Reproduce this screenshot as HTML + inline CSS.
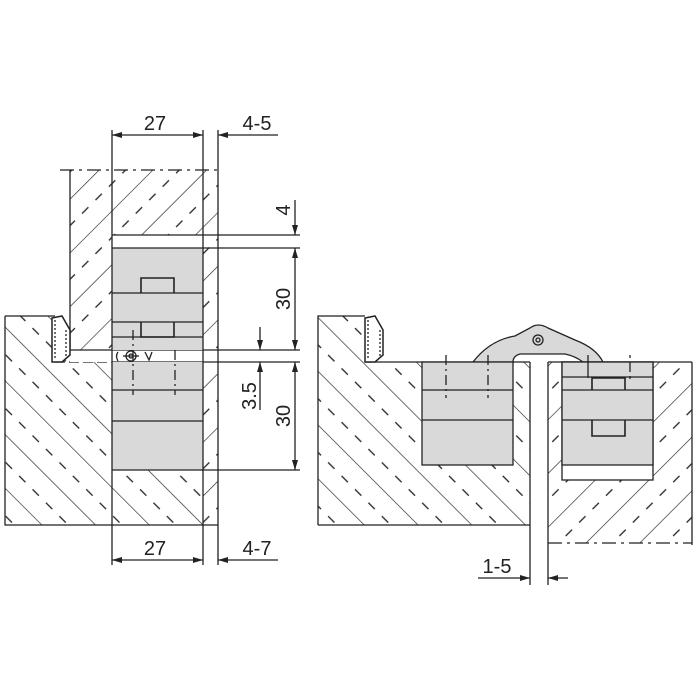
<!DOCTYPE html>
<html><head><style>html,body{margin:0;padding:0;background:#fff}svg{display:block}</style></head>
<body>
<svg width="700" height="700" viewBox="0 0 700 700" xmlns="http://www.w3.org/2000/svg" font-family="'Liberation Sans', 'DejaVu Sans', sans-serif">
<defs>
<pattern id="hb" patternUnits="userSpaceOnUse" width="38" height="38" patternTransform="rotate(-45)">
<line x1="0" y1="0" x2="0" y2="38" stroke="#222" stroke-width="1.3"/>
<line x1="19" y1="8" x2="19" y2="17" stroke="#222" stroke-width="1.3"/>
<line x1="19" y1="27" x2="19" y2="36" stroke="#222" stroke-width="1.3"/>
</pattern>
<pattern id="hf" patternUnits="userSpaceOnUse" width="38" height="38" patternTransform="rotate(45)">
<line x1="0" y1="0" x2="0" y2="38" stroke="#222" stroke-width="1.3"/>
<line x1="19" y1="8" x2="19" y2="17" stroke="#222" stroke-width="1.3"/>
<line x1="19" y1="27" x2="19" y2="36" stroke="#222" stroke-width="1.3"/>
</pattern>
<marker id="ar" viewBox="0 0 10 6" refX="10" refY="3" markerWidth="10" markerHeight="6" orient="auto-start-reverse" markerUnits="userSpaceOnUse">
<path d="M0,0 L10,3 L0,6 Z" fill="#222"/>
</marker>
</defs>
<g stroke="#222" stroke-width="1.3" fill="none">
<!-- LEFT DRAWING -->
<rect x="70" y="170" width="148" height="180" fill="url(#hf)" stroke="none"/>
<rect x="112" y="235" width="91" height="115" fill="#fff" stroke="none"/>
<line x1="70" y1="170" x2="70" y2="350"/>
<line x1="60" y1="170" x2="222" y2="170" stroke-dasharray="14,5,3,5"/>
<path d="M5,316 L55,316 L70,362 L112,362 L112,525 L5,525 Z" fill="url(#hb)" stroke="none"/>
<rect x="112" y="470" width="91" height="55" fill="url(#hb)" stroke="none"/>
<rect x="203" y="362" width="15" height="163" fill="url(#hf)" stroke="none"/>
<path d="M5,316 L55,316 M5,316 L5,525 L218,525"/>
<line x1="55" y1="362" x2="112" y2="362" stroke-dasharray="10,4"/>
<rect x="70" y="350" width="230" height="12" fill="#fff" stroke="none"/>
<line x1="70" y1="350" x2="300" y2="350"/>
<line x1="112" y1="362" x2="300" y2="362"/>
<path d="M52,318 L62,316 L70,330 L70,355 L62,362 L52,362 Z" fill="#fff" stroke-width="1.5"/>
<path d="M55,320 L55,360 M66,330 L66,356" stroke-dasharray="2,2"/>
<rect x="112" y="248" width="91" height="102" fill="#d9d9d9" stroke="none"/>
<rect x="112" y="362" width="91" height="108" fill="#d9d9d9" stroke="none"/>
<line x1="112" y1="130" x2="112" y2="565"/>
<line x1="203" y1="130" x2="203" y2="565"/>
<line x1="218" y1="130" x2="218" y2="565"/>
<line x1="112" y1="235" x2="300" y2="235"/>
<line x1="112" y1="248" x2="300" y2="248"/>
<line x1="112" y1="293" x2="203" y2="293"/>
<line x1="112" y1="322" x2="203" y2="322"/>
<line x1="112" y1="337" x2="203" y2="337"/>
<line x1="112" y1="390" x2="203" y2="390"/>
<line x1="112" y1="421" x2="203" y2="421"/>
<line x1="112" y1="470" x2="300" y2="470"/>
<path d="M141,293 L141,278 L174,278 L174,293" stroke-width="1.6"/>
<path d="M141,322 L141,337 L174,337 L174,322" stroke-width="1.6"/>
<line x1="133" y1="330" x2="133" y2="395" stroke-dasharray="10,4,2,4"/>
<line x1="175" y1="350" x2="175" y2="395" stroke-dasharray="10,4,2,4"/>
<circle cx="131" cy="356" r="5"/><circle cx="131" cy="356" r="2"/>
<line x1="123" y1="356" x2="139" y2="356"/>
<path d="M118,352 Q115,356 118,361 M145,352 L149,360 L152,352"/>
<line x1="112" y1="135" x2="203" y2="135" marker-start="url(#ar)" marker-end="url(#ar)"/>
<line x1="218" y1="135" x2="278" y2="135" marker-start="url(#ar)"/>
<line x1="112" y1="560" x2="203" y2="560" marker-start="url(#ar)" marker-end="url(#ar)"/>
<line x1="218" y1="560" x2="278" y2="560" marker-start="url(#ar)"/>
<line x1="295" y1="200" x2="295" y2="235" marker-end="url(#ar)"/>
<line x1="295" y1="248" x2="295" y2="350" marker-start="url(#ar)" marker-end="url(#ar)"/>
<line x1="295" y1="362" x2="295" y2="470" marker-start="url(#ar)" marker-end="url(#ar)"/>
<line x1="260" y1="327" x2="260" y2="350" marker-end="url(#ar)"/>
<line x1="260" y1="362" x2="260" y2="410" marker-start="url(#ar)"/>
<!-- RIGHT DRAWING -->
<path d="M318,316 L365,316 L365,362 L530,362 L530,525 L318,525 Z" fill="url(#hb)" stroke="none"/>
<path d="M318,525 L318,316 L365,316 M365,362 L530,362 M318,525 L530,525"/>
<path d="M365,318 L375,316 L383,330 L383,355 L375,362 L365,362 Z" fill="#fff" stroke-width="1.5"/>
<path d="M368,320 L368,360 M380,330 L380,356" stroke-dasharray="2,2"/>
<rect x="548" y="362" width="144" height="181" fill="url(#hf)" stroke="none"/>
<line x1="548" y1="362" x2="692" y2="362"/>
<line x1="692" y1="362" x2="692" y2="545"/>
<line x1="548" y1="543" x2="692" y2="543" stroke-dasharray="14,5,3,5"/>
<rect x="530" y="362" width="18" height="220" fill="#fff" stroke="none"/>
<line x1="530" y1="362" x2="530" y2="585"/>
<line x1="548" y1="362" x2="548" y2="585"/>
<path d="M473,362 Q490,340 515,336 L530,328 Q538,322 548,328 L575,340 Q596,348 603,362 L583,362 Q575,356 565,354 L520,354 Q513,356 513,362 Z" fill="#d9d9d9"/>
<circle cx="538" cy="340" r="5"/><circle cx="538" cy="340" r="2"/>
<rect x="422" y="362" width="91" height="103" fill="#d9d9d9"/>
<line x1="422" y1="390" x2="513" y2="390"/>
<line x1="422" y1="420" x2="513" y2="420"/>
<line x1="446" y1="355" x2="446" y2="398" stroke-dasharray="10,4,2,4"/>
<line x1="488" y1="355" x2="488" y2="398" stroke-dasharray="10,4,2,4"/>
<rect x="562" y="362" width="91" height="118" fill="#fff"/>
<rect x="562" y="362" width="91" height="103" fill="#d9d9d9"/>
<line x1="562" y1="377" x2="653" y2="377"/>
<line x1="562" y1="390" x2="653" y2="390"/>
<line x1="562" y1="420" x2="653" y2="420"/>
<path d="M592,390 L592,378 L625,378 L625,390" stroke-width="1.6"/>
<path d="M592,420 L592,436 L625,436 L625,420" stroke-width="1.6"/>
<line x1="588" y1="355" x2="588" y2="378"/>
<line x1="630" y1="355" x2="630" y2="383" stroke-dasharray="3,4,10,4"/>
<line x1="548" y1="578" x2="568" y2="578" marker-start="url(#ar)"/>
<line x1="478" y1="578" x2="530" y2="578" marker-end="url(#ar)"/>
</g>
<g fill="#222" font-size="20">
<text x="155" y="130" text-anchor="middle">27</text>
<text x="257" y="130" text-anchor="middle">4-5</text>
<text x="155" y="555" text-anchor="middle">27</text>
<text x="257" y="555" text-anchor="middle">4-7</text>
<text x="497" y="573" text-anchor="middle">1-5</text>
<text transform="translate(290,210) rotate(-90)" text-anchor="middle">4</text>
<text transform="translate(290,299) rotate(-90)" text-anchor="middle">30</text>
<text transform="translate(290,416) rotate(-90)" text-anchor="middle">30</text>
<text transform="translate(256,396) rotate(-90)" text-anchor="middle">3.5</text>
</g>
</svg>
</body></html>
